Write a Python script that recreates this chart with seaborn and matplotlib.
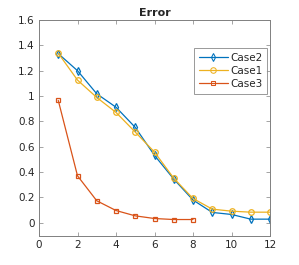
import numpy as np
import pandas as pd
import seaborn as sns
import matplotlib
matplotlib.use("Agg")
import matplotlib.pyplot as plt

x_main = [1, 2, 3, 4, 5, 6, 7, 8, 9, 10, 11, 12]
case2 = [1.335, 1.20, 1.018, 0.912, 0.753, 0.532, 0.345, 0.18, 0.082, 0.066, 0.029, 0.029]
case1 = [1.338, 1.126, 0.989, 0.871, 0.716, 0.558, 0.352, 0.192, 0.108, 0.092, 0.084, 0.084]
x_case3 = [1, 2, 3, 4, 5, 6, 7, 8]
case3 = [0.966, 0.371, 0.174, 0.097, 0.055, 0.034, 0.026, 0.026]

names = ["Case2", "Case1", "Case3"]
colors = ["#0072BD", "#EDB120", "#D95319"]
markers = ["d", "o", "s"]
msizes = [4, 4, 3]

df = pd.concat([
    pd.DataFrame({"x": x_main, "y": case2, "name": "Case2"}),
    pd.DataFrame({"x": x_main, "y": case1, "name": "Case1"}),
    pd.DataFrame({"x": x_case3, "y": case3, "name": "Case3"}),
])

sns.set_style("white")
plt.rcParams["font.family"] = ["DejaVu Sans"]

fig = plt.figure(figsize=(2.99, 2.65), dpi=100)
ax = fig.add_axes([39 / 299, 1 - 235.5 / 265, (270 - 39) / 299, (235.5 - 20) / 265])

sns.lineplot(data=df, x="x", y="y", hue="name", style="name",
             hue_order=names, style_order=names,
             palette=dict(zip(names, colors)),
             markers=dict(zip(names, markers)), dashes=False,
             linewidth=0.9, markersize=4, ax=ax, legend=True)

for line, c, ms in zip(ax.lines[:3], colors, msizes):
    line.set_markerfacecolor("none")
    line.set_markeredgecolor(c)
    line.set_markeredgewidth(0.9)
    line.set_markersize(ms)

ax.set_xlim(0, 12)
ax.set_ylim(-0.1, 1.6)
ax.set_xticks([0, 2, 4, 6, 8, 10, 12])
ax.set_yticks([0, 0.2, 0.4, 0.6, 0.8, 1, 1.2, 1.4, 1.6])
ax.set_yticklabels(["0", "0.2", "0.4", "0.6", "0.8", "1", "1.2", "1.4", "1.6"])
ax.set_xlabel("")
ax.set_ylabel("")
ax.set_title("Error", fontsize=8, fontweight="bold", pad=3)
ax.tick_params(direction="in", length=3, width=0.5, labelsize=7.5,
               colors="#808080", labelcolor="#262626",
               top=True, right=True, bottom=True, left=True,
               labeltop=False, labelright=False, pad=3)
for s in ax.spines.values():
    s.set_visible(True)
    s.set_color("#808080")
    s.set_linewidth(0.7)

handles, labels = ax.get_legend_handles_labels()
for h, c, ms in zip(handles, colors, msizes):
    h.set_markerfacecolor("none")
    h.set_markeredgecolor(c)
    h.set_markersize(ms)
leg = ax.legend(handles, labels, loc="upper left",
                bbox_to_anchor=((194 - 39) / 231, 1 - (48 - 20) / 215.5),
                fontsize=7.5, frameon=True, fancybox=False, edgecolor="#808080",
                borderpad=0.45, labelspacing=0.3, handlelength=2.8, handletextpad=0.25,
                borderaxespad=0)
leg.get_frame().set_linewidth(0.7)
for t in leg.get_texts():
    t.set_color("#262626")

fig.savefig("out.png", dpi=100)
